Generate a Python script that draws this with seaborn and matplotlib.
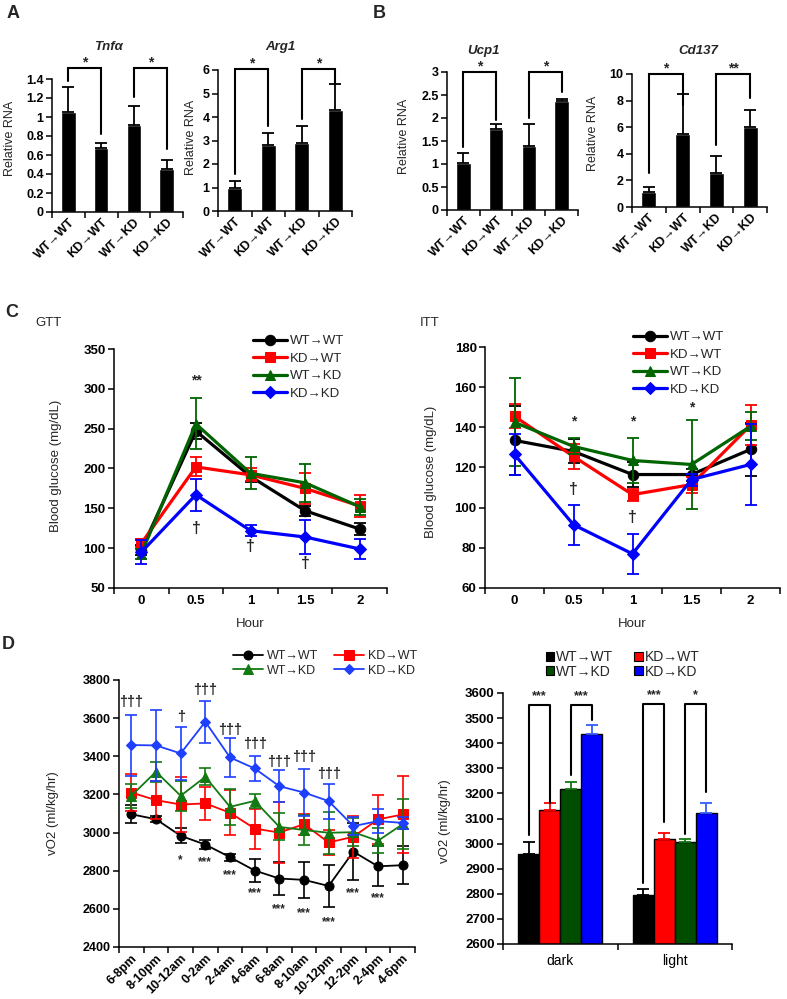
import numpy as np
import pandas as pd
import matplotlib
matplotlib.use("Agg")
import matplotlib.pyplot as plt
import seaborn as sns
from matplotlib.patches import Patch

# ---------------- data ----------------
genotypes = ["WT→WT", "KD→WT", "WT→KD", "KD→KD"]

tnfa_mean = [1.05, 0.67, 0.92, 0.45]
tnfa_err = [0.27, 0.06, 0.20, 0.10]
arg1_mean = [1.00, 2.81, 2.89, 4.29]
arg1_err = [0.29, 0.50, 0.72, 1.10]
ucp1_mean = [1.02, 1.76, 1.39, 2.36]
ucp1_err = [0.21, 0.11, 0.48, 0.06]
cd137_mean = [1.13, 5.51, 2.56, 6.02]
cd137_err = [0.37, 2.99, 1.30, 1.30]

# brackets: (left idx, right idx, top, left leg bottom, right leg bottom, label)
tnfa_br = [(0, 1, 1.52, 1.38, 0.82, "*"), (2, 3, 1.52, 1.21, 0.66, "*")]
arg1_br = [(0, 1, 6.03, 1.57, 3.61, "*"), (2, 3, 6.03, 3.93, 5.45, "*")]
ucp1_br = [(0, 1, 3.0, 1.38, 1.96, "*"), (2, 3, 3.0, 2.0, 2.56, "*")]
cd137_br = [(0, 1, 10.0, 2.56, 7.64, "*"), (2, 3, 10.0, 4.69, 8.2, "**")]

hours = ["0", "0.5", "1", "1.5", "2"]
gtt_wtwt = [98, 247, 190, 147, 124]
gtt_wtwt_err = [6, 10, 7, 6, 8]
gtt_kdwt = [106, 202, 192, 175, 153]
gtt_kdwt_err = [5, 12, 8, 19, 14]
gtt_wtkd = [93, 256, 194, 182, 152]
gtt_wtkd_err = [6, 32, 20, 24, 10]
gtt_kdkd = [95, 167, 122, 114, 99]
gtt_kdkd_err = [15, 20, 7, 21, 13]
gtt_star = [(1, 311, "**")]
gtt_dagger = [(1, 125, "†"), (2, 102, "†"), (3, 81, "†")]

itt_wtwt = [133.5, 128, 116.5, 116.5, 129]
itt_wtwt_err = [17, 6, 6, 3, 13]
itt_kdwt = [145.5, 125.5, 106.5, 111.5, 141]
itt_kdwt_err = [6, 6, 3, 4, 10]
itt_wtkd = [142.5, 130.5, 123.5, 121.5, 140.5]
itt_wtkd_err = [22, 4, 11, 22, 7]
itt_kdkd = [126.5, 91.5, 77, 114, 121.5]
itt_kdkd_err = [10, 10, 10, 3, 20]
itt_star = [(1, 143, "*"), (2, 143, "*"), (3, 150, "*")]
itt_dagger = [(1, 109, "†"), (2, 95, "†")]

periods = ["6-8pm", "8-10pm", "10-12am", "0-2am", "2-4am", "4-6am",
           "6-8am", "8-10am", "10-12pm", "12-2pm", "2-4pm", "4-6pm"]
vo2_wtwt = [3096, 3070, 2983, 2937, 2871, 2801, 2759, 2752, 2720, 2900, 2823, 2829]
vo2_wtwt_err = [48, 15, 40, 25, 18, 60, 88, 95, 112, 150, 105, 100]
vo2_kdwt = [3210, 3170, 3147, 3153, 3104, 3021, 3000, 3044, 2948, 2978, 3069, 3095]
vo2_kdwt_err = [95, 100, 145, 87, 118, 105, 160, 55, 65, 110, 130, 200]
vo2_wtkd = [3193, 3319, 3193, 3292, 3135, 3166, 3030, 3013, 2999, 3002, 2957, 3044]
vo2_wtkd_err = [64, 53, 80, 45, 95, 35, 70, 80, 110, 75, 65, 130]
vo2_kdkd = [3459, 3457, 3415, 3581, 3394, 3336, 3243, 3210, 3165, 3034, 3060, 3051]
vo2_kdkd_err = [160, 185, 140, 110, 100, 68, 85, 125, 92, 48, 63, 30]
vo2_dagger = [(0, 3683, "†††"), (2, 3608, "†"), (3, 3748, "†††"), (4, 3538, "†††"),
              (5, 3462, "†††"), (6, 3371, "†††"), (7, 3398, "†††"), (8, 3307, "†††")]
vo2_star = [(2, 2855, "*"), (3, 2843, "***"), (4, 2776, "***"), (5, 2684, "***"),
            (6, 2601, "***"), (7, 2580, "***"), (8, 2531, "***"), (9, 2684, "***"),
            (10, 2654, "***")]

phases = ["dark", "light"]
avg_dark = [2959, 3132, 3216, 3438]
avg_dark_err = [46, 28, 28, 35]
avg_light = [2795, 3020, 3007, 3123]
avg_light_err = [26, 24, 12, 40]
avg_br = [(0, 0, 1, 3554, 3034, 3163, "***"), (0, 2, 3, 3554, 3273, 3491, "***"),
          (1, 0, 1, 3558, 2842, 3085, "***"), (1, 2, 3, 3558, 3040, 3204, "*")]

# ---------------- style ----------------
sns.set_style("ticks")
plt.rcParams['font.family'] = ['Liberation Sans', 'DejaVu Sans']
plt.rcParams['axes.linewidth'] = 1.1
plt.rcParams['xtick.major.width'] = 1.1
plt.rcParams['ytick.major.width'] = 1.1
plt.rcParams['xtick.major.size'] = 4
plt.rcParams['ytick.major.size'] = 4
plt.rcParams['axes.edgecolor'] = 'black'
plt.rcParams['xtick.color'] = 'black'
plt.rcParams['ytick.color'] = 'black'

line_colors = ['black', '#ff0000', '#006400', '#0000ff']
line_markers = ['o', 's', '^', 'D']
bar_colors = ['black', '#ff0000', '#004d00', '#0000ff']

W, H = 787, 999
fig = plt.figure(figsize=(W / 100, H / 100), dpi=100)


def add_ax(x0, x1, ytop, ybot):
    return fig.add_axes([x0 / W, 1 - ybot / H, (x1 - x0) / W, (ybot - ytop) / H])


def cat_axis(ax, labels, fontsize, rotation=0, bold=True, pad=3):
    n = len(labels)
    ax.set_xlim(-0.5, n - 0.5)
    ax.set_xticks(np.arange(n + 1) - 0.5)
    ax.set_xticklabels([""] * (n + 1))
    ax.set_xticks(np.arange(n), minor=True)
    if rotation:
        ax.set_xticklabels(labels, minor=True, rotation=rotation, ha='right',
                           rotation_mode='anchor', fontsize=fontsize,
                           fontweight='bold' if bold else 'normal')
    else:
        ax.set_xticklabels(labels, minor=True, fontsize=fontsize,
                           fontweight='bold' if bold else 'normal')
    ax.tick_params(axis='x', which='minor', length=0, pad=pad)
    ax.tick_params(axis='x', which='major', length=4, direction='out')


def y_axis(ax, lo, hi, step, fontsize):
    ticks = np.round(np.arange(lo, hi + step / 2, step), 6)
    ax.set_ylim(lo, hi)
    ax.set_yticks(ticks)
    ax.set_yticklabels([f"{t:g}" for t in ticks], fontsize=fontsize, fontweight='bold')
    ax.tick_params(axis='y', direction='out', pad=2)


def rna_panel(ax, means, errs, ymax, step, brackets, title, title_xy, ylab_xy):
    sns.barplot(x=genotypes, y=means, color='black', width=0.44, saturation=1,
                errorbar=None, ax=ax)
    ax.errorbar(range(4), means, yerr=[np.zeros(4), errs], fmt='none',
                ecolor='black', elinewidth=1.3, capsize=4, capthick=1.3)
    y_axis(ax, 0, ymax, step, 9)
    cat_axis(ax, genotypes, 9, rotation=45, pad=3)
    for (i, j, top, lo_i, lo_j, s) in brackets:
        ax.plot([i, i, j, j], [lo_i, top, top, lo_j], color='black', lw=1.5,
                clip_on=False, solid_joinstyle='miter')
        ax.annotate(s, xy=((i + j) / 2, top), xytext=(0, -1), textcoords='offset points',
                    ha='center', va='bottom', fontsize=10, fontweight='bold',
                    annotation_clip=False)
    ax.set_ylabel("Relative RNA", fontsize=9)
    ax.yaxis.set_label_coords(*ylab_xy)
    ax.set_xlabel("")
    sns.despine(ax=ax)
    fig.text(title_xy[0] / W, 1 - title_xy[1] / H, title, ha='center', va='center',
             fontsize=9.5, fontweight='bold', style='italic')


# ---------------- Panel A / B ----------------
axA1 = add_ax(52, 183, 79, 212)
rna_panel(axA1, tnfa_mean, tnfa_err, 1.4, 0.2, tnfa_br, "Tnfα", (108, 47), (-0.271, 0.55))
axA2 = add_ax(218, 352, 70, 211)
rna_panel(axA2, arg1_mean, arg1_err, 6, 1, arg1_br, "Arg1", (280, 47), (-0.160, 0.52))
axB1 = add_ax(447, 578, 72, 210)
rna_panel(axB1, ucp1_mean, ucp1_err, 3, 0.5, ucp1_br, "Ucp1", (483, 51), (-0.286, 0.53))
axB2 = add_ax(632, 767, 74, 207)
rna_panel(axB2, cd137_mean, cd137_err, 10, 2, cd137_br, "Cd137", (698, 51), (-0.241, 0.55))


# ---------------- Panel C ----------------
def line_panel(ax, x_labels, series, errs, colors, lw, ms, capsize, elw):
    x = np.arange(len(x_labels))
    for k, (vals, err) in enumerate(zip(series, errs)):
        ax.errorbar(x, vals, yerr=err, fmt='none', ecolor=colors[k],
                    elinewidth=elw, capsize=capsize, capthick=elw, zorder=2 + k)
        sns.lineplot(x=x, y=vals, color=colors[k], marker=line_markers[k],
                     markersize=ms if line_markers[k] != 'D' else ms * 0.85,
                     markeredgecolor=colors[k], lw=lw, label=genotypes[k],
                     ax=ax, zorder=3 + k, legend=False)


axC1 = add_ax(114, 387, 349, 588)
line_panel(axC1, hours, [gtt_wtwt, gtt_kdwt, gtt_wtkd, gtt_kdkd],
           [gtt_wtwt_err, gtt_kdwt_err, gtt_wtkd_err, gtt_kdkd_err],
           line_colors, 2.3, 7.5, 4.5, 1.3)
y_axis(axC1, 50, 350, 50, 9.5)
cat_axis(axC1, hours, 9.5, pad=5)
for (i, yv, s) in gtt_star:
    axC1.text(i, yv, s, ha='center', va='center', fontsize=10, fontweight='bold')
for (i, yv, s) in gtt_dagger:
    axC1.text(i, yv, s, ha='center', va='center', fontsize=11.5, fontweight='bold')
axC1.set_ylabel("Blood glucose (mg/dL)", fontsize=9.5)
axC1.yaxis.set_label_coords(-0.192, 0.51)
axC1.set_xlabel("Hour", fontsize=9.5)
axC1.xaxis.set_label_coords(0.5, -0.125)
sns.despine(ax=axC1)
axC1.legend(loc='upper left', bbox_to_anchor=(253 / W, 1 - 335 / H),
            bbox_transform=fig.transFigure, frameon=False, fontsize=9.5,
            handlelength=2.6, handletextpad=0.2, borderpad=0, borderaxespad=0,
            labelspacing=0.4)

axC2 = add_ax(485, 780, 347, 588)
line_panel(axC2, hours, [itt_wtwt, itt_kdwt, itt_wtkd, itt_kdkd],
           [itt_wtwt_err, itt_kdwt_err, itt_wtkd_err, itt_kdkd_err],
           line_colors, 2.3, 7.5, 4.5, 1.3)
y_axis(axC2, 60, 180, 20, 9.5)
cat_axis(axC2, hours, 9.5, pad=5)
for (i, yv, s) in itt_star:
    axC2.text(i, yv, s, ha='center', va='center', fontsize=10, fontweight='bold')
for (i, yv, s) in itt_dagger:
    axC2.text(i, yv, s, ha='center', va='center', fontsize=11.5, fontweight='bold')
axC2.set_ylabel("Blood glucose (mg/dL)", fontsize=9.5)
axC2.yaxis.set_label_coords(-0.164, 0.48)
axC2.set_xlabel("Hour", fontsize=9.5)
axC2.xaxis.set_label_coords(0.5, -0.125)
sns.despine(ax=axC2)
axC2.legend(loc='upper left', bbox_to_anchor=(633 / W, 1 - 331 / H),
            bbox_transform=fig.transFigure, frameon=False, fontsize=9.5,
            handlelength=2.6, handletextpad=0.2, borderpad=0, borderaxespad=0,
            labelspacing=0.4)

fig.text(35 / W, 1 - 323 / H, "GTT", ha='left', va='center', fontsize=9.5)
fig.text(420 / W, 1 - 323 / H, "ITT", ha='left', va='center', fontsize=9.5)

# ---------------- Panel D left ----------------
line_colors_d = ['black', '#ff0000', '#127a12', '#1f3fff']
axD1 = add_ax(119, 415, 680, 947)
line_panel(axD1, periods, [vo2_wtwt, vo2_kdwt, vo2_wtkd, vo2_kdkd],
           [vo2_wtwt_err, vo2_kdwt_err, vo2_wtkd_err, vo2_kdkd_err],
           line_colors_d, 1.3, 6.5, 4, 1.2)
y_axis(axD1, 2400, 3800, 200, 9)
cat_axis(axD1, periods, 9, rotation=45, pad=4)
for (i, yv, s) in vo2_dagger:
    axD1.text(i, yv, s, ha='center', va='center', fontsize=10.5, fontweight='bold')
for (i, yv, s) in vo2_star:
    axD1.text(i, yv, s, ha='center', va='center', fontsize=8.5, fontweight='bold')
axD1.set_ylabel("vO2 (ml/kg/hr)", fontsize=9.5)
axD1.yaxis.set_label_coords(-0.204, 0.5)
axD1.set_xlabel("")
sns.despine(ax=axD1)
h, l = axD1.get_legend_handles_labels()
order = [0, 2, 1, 3]
axD1.legend([h[o] for o in order], [l[o] for o in order], ncol=2, loc='upper left',
            bbox_to_anchor=(233 / W, 1 - 650 / H), bbox_transform=fig.transFigure,
            frameon=False, fontsize=9, handlelength=2.4, handletextpad=0.3,
            borderpad=0, borderaxespad=0, labelspacing=0.2, columnspacing=1.3)

# ---------------- Panel D right ----------------
axD2 = add_ax(503, 732, 693, 944)
df_avg = pd.DataFrame({
    "phase": np.repeat(phases, len(genotypes)),
    "genotype": genotypes * len(phases),
    "vo2": avg_dark + avg_light,
})
bw = 0.73
sns.barplot(data=df_avg, x="phase", y="vo2", hue="genotype", hue_order=genotypes,
            palette=bar_colors, width=bw, edgecolor='black', linewidth=1,
            saturation=1, errorbar=None, legend=False, ax=axD2)
errs_all = [avg_dark_err, avg_light_err]
means_all = [avg_dark, avg_light]
err_cols = ['black', '#ff0000', '#127a12', '#2f5fff']
for p in range(len(phases)):
    for k in range(len(genotypes)):
        xc = p - bw / 2 + bw / len(genotypes) * (k + 0.5)
        axD2.errorbar([xc], [means_all[p][k]], yerr=[[0], [errs_all[p][k]]], fmt='none',
                      ecolor=err_cols[k], elinewidth=1.3, capsize=4, capthick=1.3,
                      zorder=1)
for (p, i, j, top, lo_i, lo_j, s) in avg_br:
    xi = p - bw / 2 + bw / 4 * (i + 0.5)
    xj = p - bw / 2 + bw / 4 * (j + 0.5)
    axD2.plot([xi, xi, xj, xj], [lo_i, top, top, lo_j], color='black', lw=1.5,
              clip_on=False)
    axD2.text((xi + xj) / 2, top + 35, s, ha='center', va='center', fontsize=9,
              fontweight='bold')
y_axis(axD2, 2600, 3600, 100, 9.5)
cat_axis(axD2, phases, 10, bold=False, pad=7)
axD2.set_xlabel("")
axD2.set_ylabel("vO2 (ml/kg/hr)", fontsize=9.5)
axD2.yaxis.set_label_coords(-0.229, 0.49)
sns.despine(ax=axD2)
patches = [Patch(facecolor=bar_colors[k], edgecolor='black', linewidth=0.8) for k in range(4)]
axD2.legend([patches[o] for o in order], [genotypes[o] for o in order], ncol=2,
            loc='upper left', bbox_to_anchor=(546 / W, 1 - 650 / H),
            bbox_transform=fig.transFigure, frameon=False, fontsize=10,
            handlelength=0.6, handleheight=0.6, handletextpad=0.15, borderpad=0,
            borderaxespad=0, labelspacing=0.05, columnspacing=1.5)

# ---------------- panel letters ----------------
for (s, x, y) in [("A", 7, 5), ("B", 373, 5), ("C", 5, 304), ("D", 2, 636)]:
    fig.text(x / W, 1 - y / H, s, ha='left', va='top', fontsize=13, fontweight='bold')

fig.savefig("out.png", dpi=100)
